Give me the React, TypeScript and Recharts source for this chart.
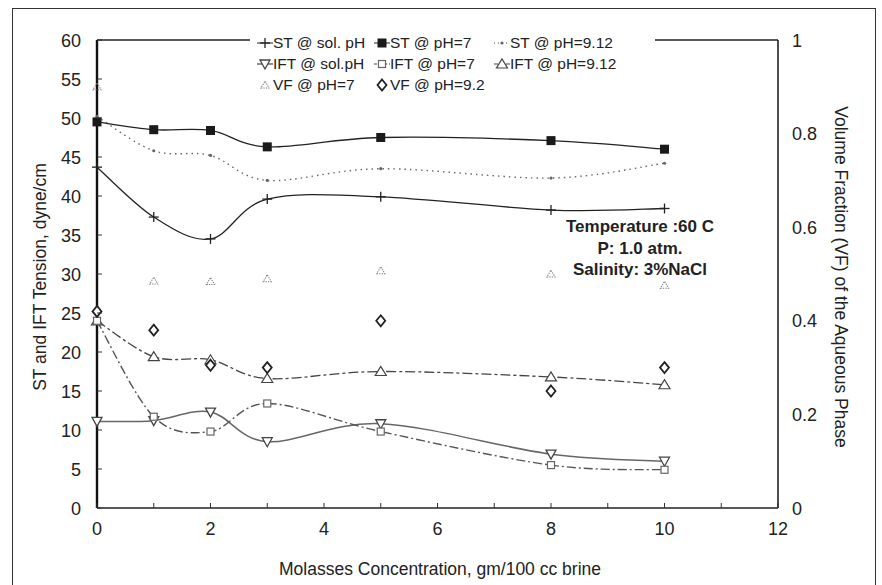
import React from 'react';
import { LineChart, Line, XAxis, YAxis, ReferenceLine } from 'recharts';

const CONC = [0, 1, 2, 3, 5, 8, 10];
const ST_SOL = [43.7, 37.3, 34.5, 39.6, 39.9, 38.2, 38.4];
const ST_PH7 = [49.5, 48.5, 48.4, 46.3, 47.5, 47.1, 46.0];
const ST_PH912 = [50.2, 45.8, 45.2, 42.0, 43.5, 42.3, 44.2];
const IFT_SOL = [11.1, 11.2, 12.3, 8.5, 10.8, 6.9, 6.0];
const IFT_PH7 = [24.0, 11.7, 9.8, 13.4, 9.8, 5.5, 4.9];
const IFT_PH912 = [24.0, 19.4, 19.0, 16.6, 17.5, 16.8, 15.8];
const VF_PH7 = [0.9, 0.485, 0.484, 0.49, 0.507, 0.5, 0.476];
const VF_PH92 = [0.42, 0.38, 0.305, 0.3, 0.4, 0.25, 0.3];

const X_TICKS = [0, 1, 2, 3, 4, 5, 6, 7, 8, 9, 10, 11, 12];
const LEFT_TICKS = [0, 5, 10, 15, 20, 25, 30, 35, 40, 45, 50, 55, 60];
const RIGHT_TICKS = [0, 0.2, 0.4, 0.6, 0.8, 1];

const data = CONC.map((x, i) => ({
  x,
  stSol: ST_SOL[i],
  st7: ST_PH7[i],
  st912: ST_PH912[i],
  iftSol: IFT_SOL[i],
  ift7: IFT_PH7[i],
  ift912: IFT_PH912[i],
  vf7: VF_PH7[i],
  vf92: VF_PH92[i],
}));

const FONT = '"Liberation Sans", Arial, sans-serif';

// spreadsheet-style smoothing (catmull-rom through the points)
const smooth = (context: any) => {
  let pts: number[][] = [];
  return {
    areaStart() {},
    areaEnd() {},
    lineStart() {
      pts = [];
    },
    point(x: number, y: number) {
      pts.push([+x, +y]);
    },
    lineEnd() {
      const n = pts.length;
      if (!n) return;
      context.moveTo(pts[0][0], pts[0][1]);
      for (let i = 0; i < n - 1; i++) {
        const p0 = pts[Math.max(i - 1, 0)];
        const p1 = pts[i];
        const p2 = pts[i + 1];
        const p3 = pts[Math.min(i + 2, n - 1)];
        context.bezierCurveTo(
          p1[0] + (p2[0] - p0[0]) / 6,
          p1[1] + (p2[1] - p0[1]) / 6,
          p2[0] - (p3[0] - p1[0]) / 6,
          p2[1] - (p3[1] - p1[1]) / 6,
          p2[0],
          p2[1]
        );
      }
    },
  };
};

type M = { cx: number; cy: number };

const Cross = ({ cx, cy }: M) => (
  <g stroke="#222" strokeWidth={1.3}>
    <line x1={cx - 5} x2={cx + 5} y1={cy} y2={cy} />
    <line x1={cx} x2={cx} y1={cy - 5} y2={cy + 5} />
  </g>
);
const Square = ({ cx, cy }: M) => <rect x={cx - 4.5} y={cy - 4.5} width={9} height={9} fill="#1a1a1a" />;
const Dot = ({ cx, cy }: M) => <circle cx={cx} cy={cy} r={1.6} fill="#666" />;
const DownTri = ({ cx, cy }: M) => (
  <polygon
    points={`${cx - 5},${cy - 4} ${cx + 5},${cy - 4} ${cx},${cy + 5}`}
    fill="#fff"
    stroke="#444"
    strokeWidth={1.3}
  />
);
const OpenSq = ({ cx, cy }: M) => (
  <rect x={cx - 3.5} y={cy - 3.5} width={7} height={7} fill="#fff" stroke="#666" strokeWidth={1.2} />
);
const UpTri = ({ cx, cy }: M) => (
  <polygon
    points={`${cx - 5.5},${cy + 4} ${cx + 5.5},${cy + 4} ${cx},${cy - 5}`}
    fill="#fff"
    stroke="#444"
    strokeWidth={1.2}
  />
);
const SmallTri = ({ cx, cy }: M) => (
  <polygon
    points={`${cx - 4},${cy + 3} ${cx + 4},${cy + 3} ${cx},${cy - 4}`}
    fill="none"
    stroke="#777"
    strokeWidth={1.1}
    strokeDasharray="1.2 1.2"
  />
);
const Diamond = ({ cx, cy }: M) => (
  <polygon
    points={`${cx},${cy - 5.5} ${cx + 4.5},${cy} ${cx},${cy + 5.5} ${cx - 4.5},${cy}`}
    fill="#fff"
    stroke="#222"
    strokeWidth={1.8}
  />
);

const dotOf = (Shape: any, name: string) => (p: any) =>
  p.cx == null ? <g key={`${name}-${p.index}`} /> : <g key={`${name}-${p.index}`}><Shape cx={p.cx} cy={p.cy} /></g>;

const LeftTick = ({ x, y, payload }: any) => (
  <g>
    <text x={x} y={y} dy={6.5} textAnchor="end" fontSize={18} fill="#222" fontFamily={FONT}>
      {payload.value}
    </text>
    <line x1={x + 16} x2={x + 21} y1={y} y2={y} stroke="#333" />
  </g>
);
const RightTick = ({ x, y, payload }: any) => (
  <text x={x} y={y} dy={6.5} textAnchor="start" fontSize={18} fill="#222" fontFamily={FONT}>
    {payload.value}
  </text>
);
const BottomTick = ({ x, y, payload }: any) => (
  <g>
    <line x1={x} x2={x} y1={y - 14} y2={y - 19} stroke="#333" />
    {payload.value % 2 === 0 && (
      <text x={x} y={y} dy={13} textAnchor="middle" fontSize={18} fill="#222" fontFamily={FONT}>
        {payload.value}
      </text>
    )}
  </g>
);

const LEGEND = [
  { label: 'ST @ sol. pH', Shape: Cross, dash: undefined, col: 0, row: 0 },
  { label: 'ST @ pH=7', Shape: Square, dash: undefined, col: 1, row: 0 },
  { label: 'ST @ pH=9.12', Shape: Dot, dash: '1 3', col: 2, row: 0 },
  { label: 'IFT @ sol.pH', Shape: DownTri, dash: undefined, col: 0, row: 1 },
  { label: 'IFT @ pH=7', Shape: OpenSq, dash: '3 2', col: 1, row: 1 },
  { label: 'IFT @ pH=9.12', Shape: UpTri, dash: '4 2', col: 2, row: 1 },
  { label: 'VF @ pH=7', Shape: SmallTri, dash: 'none', col: 0, row: 2 },
  { label: 'VF @ pH=9.2', Shape: Diamond, dash: 'none', col: 1, row: 2 },
];
const COL_X = [273, 390, 510];
const ROW_Y = [43, 64, 85];

export default function App() {
  return (
    <div
      style={{
        position: 'absolute',
        left: 0,
        top: 0,
        width: 882,
        height: 585,
        overflow: 'hidden',
        background: '#fff',
        fontFamily: FONT,
        color: '#222',
      }}
    >
      <div
        style={{
          position: 'absolute',
          left: 12,
          top: 8,
          width: 862,
          height: 640,
          border: '1.6px solid #333',
        }}
      />
      <div style={{ position: 'absolute', left: 0, top: 0 }}>
        <LineChart width={882} height={585} data={data} margin={{ top: 40, right: 44, bottom: 37, left: 17 }}>
          <XAxis
            dataKey="x"
            type="number"
            domain={[0, 12]}
            ticks={X_TICKS}
            interval={0}
            height={40}
            tickSize={0}
            tickMargin={14}
            tick={<BottomTick />}
            axisLine={{ stroke: '#222', strokeWidth: 1.6 }}
          />
          <YAxis
            yAxisId="left"
            domain={[0, 60]}
            ticks={LEFT_TICKS}
            interval={0}
            width={80}
            tickSize={0}
            tickMargin={16}
            tick={<LeftTick />}
            axisLine={{ stroke: '#111', strokeWidth: 2.4 }}
          />
          <YAxis
            yAxisId="right"
            orientation="right"
            domain={[0, 1]}
            ticks={RIGHT_TICKS}
            interval={0}
            width={60}
            tickSize={0}
            tickMargin={14}
            tick={<RightTick />}
            axisLine={{ stroke: '#222', strokeWidth: 1.6 }}
          />
          <ReferenceLine yAxisId="left" y={60} stroke="#222" strokeWidth={1.6} />

          <Line yAxisId="left" dataKey="st912" type={smooth as any} stroke="#666" strokeWidth={1.4} strokeDasharray="1.5 4" dot={dotOf(Dot, 'st912')} activeDot={false} isAnimationActive={false} />
          <Line yAxisId="left" dataKey="st7" type={smooth as any} stroke="#222" strokeWidth={1.3} dot={dotOf(Square, 'st7')} activeDot={false} isAnimationActive={false} />
          <Line yAxisId="left" dataKey="stSol" type={smooth as any} stroke="#222" strokeWidth={1.3} dot={dotOf(Cross, 'stSol')} activeDot={false} isAnimationActive={false} />
          <Line yAxisId="left" dataKey="ift912" type={smooth as any} stroke="#444" strokeWidth={1.3} strokeDasharray="10 3 3 3" dot={dotOf(UpTri, 'ift912')} activeDot={false} isAnimationActive={false} />
          <Line yAxisId="left" dataKey="iftSol" type={smooth as any} stroke="#666" strokeWidth={1.5} dot={dotOf(DownTri, 'iftSol')} activeDot={false} isAnimationActive={false} />
          <Line yAxisId="left" dataKey="ift7" type={smooth as any} stroke="#555" strokeWidth={1.4} strokeDasharray="9 3 2 3" dot={dotOf(OpenSq, 'ift7')} activeDot={false} isAnimationActive={false} />
          <Line yAxisId="right" dataKey="vf7" stroke="none" dot={dotOf(SmallTri, 'vf7')} activeDot={false} isAnimationActive={false} />
          <Line yAxisId="right" dataKey="vf92" stroke="none" dot={dotOf(Diamond, 'vf92')} activeDot={false} isAnimationActive={false} />
        </LineChart>
      </div>

      {/* legend */}
      <div style={{ position: 'absolute', left: 250, top: 30, width: 405, height: 68, background: '#fff' }} />
      {LEGEND.map((it) => (
        <div key={it.label}>
          <svg
            width={16}
            height={14}
            style={{ position: 'absolute', left: COL_X[it.col] - 16, top: ROW_Y[it.row] - 7 }}
          >
            {it.dash !== 'none' && (
              <line x1={0} x2={16} y1={7} y2={7} stroke="#444" strokeWidth={1.2} strokeDasharray={it.dash} />
            )}
            <it.Shape cx={8} cy={7} />
          </svg>
          <div
            style={{
              position: 'absolute',
              left: COL_X[it.col],
              top: ROW_Y[it.row] - 10,
              fontSize: 15.5,
              lineHeight: '20px',
              whiteSpace: 'nowrap',
            }}
          >
            {it.label}
          </div>
        </div>
      ))}

      {/* annotation */}
      <div
        style={{
          position: 'absolute',
          left: 540,
          top: 216,
          width: 200,
          textAlign: 'center',
          fontWeight: 'bold',
          fontSize: 17,
          lineHeight: '21.5px',
        }}
      >
        <div>Temperature :60 C</div>
        <div>P: 1.0 atm.</div>
        <div>Salinity: 3%NaCl</div>
      </div>

      {/* axis titles */}
      <div
        style={{
          position: 'absolute',
          left: 40,
          top: 277,
          transform: 'translate(-50%, -50%) rotate(-90deg)',
          whiteSpace: 'nowrap',
          fontSize: 17.5,
        }}
      >
        ST and IFT Tension, dyne/cm
      </div>
      <div
        style={{
          position: 'absolute',
          left: 840,
          top: 277,
          transform: 'translate(-50%, -50%) rotate(90deg)',
          whiteSpace: 'nowrap',
          fontSize: 17.5,
        }}
      >
        Volume Fraction (VF) of the Aqueous Phase
      </div>
      <div
        style={{
          position: 'absolute',
          left: 440,
          top: 569,
          transform: 'translate(-50%, -50%)',
          whiteSpace: 'nowrap',
          fontSize: 17.5,
        }}
      >
        Molasses Concentration, gm/100 cc brine
      </div>
    </div>
  );
}
